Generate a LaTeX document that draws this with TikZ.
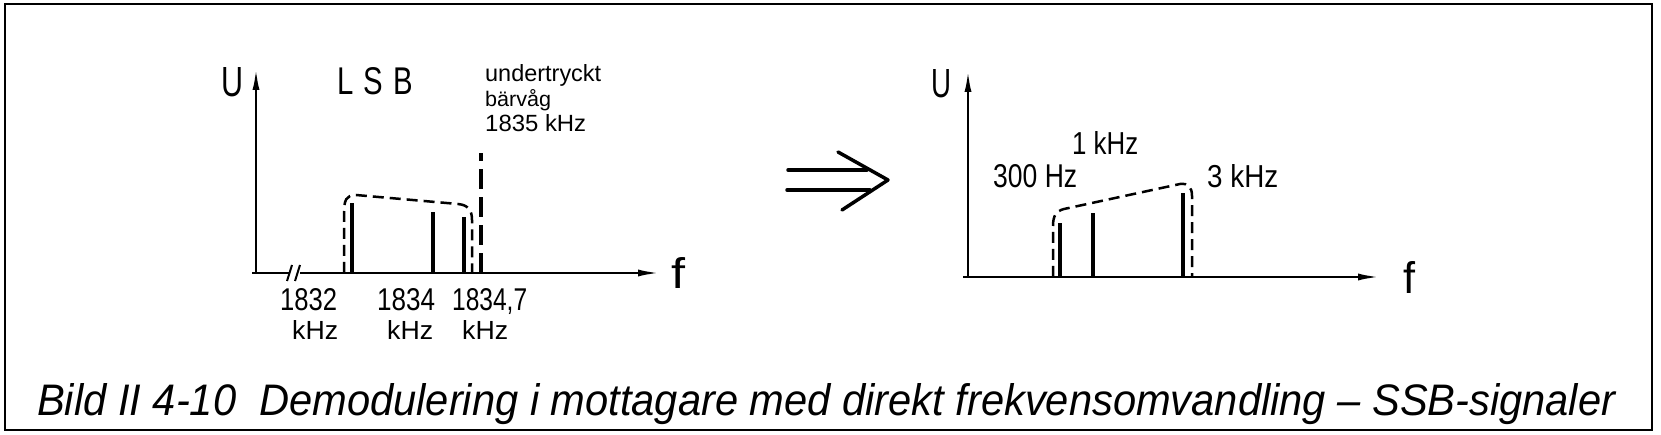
\documentclass[tikz,border=0pt]{standalone}
\usepackage{fontspec}
\setmainfont{Liberation Sans}
\usepackage{graphicx}
\usetikzlibrary{arrows.meta}
\newcommand{\fitbox}[3]{\resizebox{#1pt}{#2pt}{#3}}
\begin{document}
\begin{tikzpicture}[x=1pt,y=-1pt,
  lbl/.style={inner sep=0pt, anchor=base west},
  axisline/.style={line width=2.5pt, -{Latex[length=22pt,width=7pt]}},
  plainax/.style={line width=2.5pt},
  specline/.style={line width=4.5pt},
  dashline/.style={line width=2.5pt, dash pattern=on 11pt off 6pt},
  carrier/.style={line width=3.5pt, dash pattern=on 20pt off 8pt},
  dblarrow/.style={line width=3.5pt, line cap=round, line join=round}]
\useasboundingbox (0,0) rectangle (1661,435);
\draw[line width=2.5pt] (5,4) rectangle (1652,430);

% ---------- left diagram ----------
\coordinate (lo) at (256,273);
\coordinate (ltop) at (256,68);
\coordinate (lxs) at (252,273);
\coordinate (lb1) at (289,273);
\coordinate (lb2) at (300,273);
\coordinate (lxe) at (660,273);
\draw[axisline] (lo) -- (ltop);
\draw[plainax] (lxs) -- (lb1);
\draw[axisline] (lb2) -- (lxe);
\draw[line width=2pt] (287,281) -- (292,265);
\draw[line width=2pt] (295,281) -- (300,265);

% spectral lines
\coordinate (a1) at (352,273); \coordinate (a1t) at (352,203);
\coordinate (a2) at (433,273); \coordinate (a2t) at (433,212);
\coordinate (a3) at (464,273); \coordinate (a3t) at (464,217);
\draw[specline] (a1) -- (a1t);
\draw[specline] (a2) -- (a2t);
\draw[specline] (a3) -- (a3t);
% envelope
\coordinate (e1) at (344,273);
\coordinate (e2) at (472,273);
\draw[dashline] (e1) -- (344,214) .. controls (344,200) and (346,195) .. (356,195)
  -- (458,204) .. controls (468,205) and (472,210) .. (472,220) -- (e2);
% carrier
\coordinate (cb) at (481,273); \coordinate (ct) at (481,153);
\draw[carrier] (cb) -- (ct);

\node[lbl] (U1) at (221,97) {\fitbox{22}{29}{U}};
\node[lbl] (lsb) at (337,95) {\fitbox{76}{27}{L\hspace{0.35em}S\hspace{0.35em}B}};
\node[lbl] (t1) at (485,82) {\fitbox{116}{17}{undertryckt}};
\node[lbl] (t2) at (485,107) {\fitbox{66}{17}{bärvåg}};
\node[lbl] (t3) at (485,132) {\fitbox{101}{17}{1835 kHz}};
\node[lbl] (f1) at (671,289) {\fitbox{14}{31}{f}};
\node[lbl] (n1) at (280,310) {\fitbox{57}{22}{1832}};
\node[lbl] (k1) at (292,340) {\fitbox{46}{19}{kHz}};
\node[lbl] (n2) at (377,310) {\fitbox{58}{22}{1834}};
\node[lbl] (k2) at (387,340) {\fitbox{46}{19}{kHz}};
\node[lbl] (n3) at (452,310) {\fitbox{75}{22}{1834,7}};
\node[lbl] (k3) at (462,340) {\fitbox{46}{19}{kHz}};

% ---------- double arrow ----------
\coordinate (d1s) at (788,170); \coordinate (d1e) at (867,170);
\coordinate (d2s) at (787,190); \coordinate (d2e) at (870,190);
\coordinate (c1) at (838,152); \coordinate (ctip) at (888,180); \coordinate (c2) at (842,210);
\draw[dblarrow] (d1s) -- (d1e);
\draw[dblarrow] (d2s) -- (d2e);
\draw[dblarrow] (c1) -- (ctip) -- (c2);

% ---------- right diagram ----------
\coordinate (ro) at (968,277);
\coordinate (rtop) at (968,70);
\coordinate (rxs) at (963,277);
\coordinate (rxe) at (1380,277);
\draw[axisline] (ro) -- (rtop);
\draw[axisline] (rxs) -- (rxe);

\coordinate (b1) at (1060,277); \coordinate (b1t) at (1060,223);
\coordinate (b2) at (1093,277); \coordinate (b2t) at (1093,213);
\coordinate (b3) at (1183,277); \coordinate (b3t) at (1183,193);
\draw[specline] (b1) -- (b1t);
\draw[specline] (b2) -- (b2t);
\draw[specline] (b3) -- (b3t);
\coordinate (g1) at (1053,277);
\coordinate (g2) at (1192,277);
\draw[dashline] (g1) -- (1053,226) .. controls (1053,216) and (1056,211) .. (1064,209)
  -- (1180,184) .. controls (1188,183) and (1192,187) .. (1192,196) -- (g2);

\node[lbl] (U2) at (931,98) {\fitbox{20}{28}{U}};
\node[lbl] (f2) at (1403,294) {\fitbox{12}{32}{f}};
\node[lbl] (h1) at (1072,155) {\fitbox{66}{23}{1 kHz}};
\node[lbl] (h2) at (993,188) {\fitbox{84}{23}{300 Hz}};
\node[lbl] (h3) at (1207,188) {\fitbox{71}{23}{3 kHz}};

% ---------- caption ----------
\node[lbl] (cap) at (37,415) {\fitbox{1578}{32}{\itshape Bild II 4-10\ \ Demodulering i mottagare med direkt frekvensomvandling -- SSB-signaler}};
\end{tikzpicture}
\end{document}
